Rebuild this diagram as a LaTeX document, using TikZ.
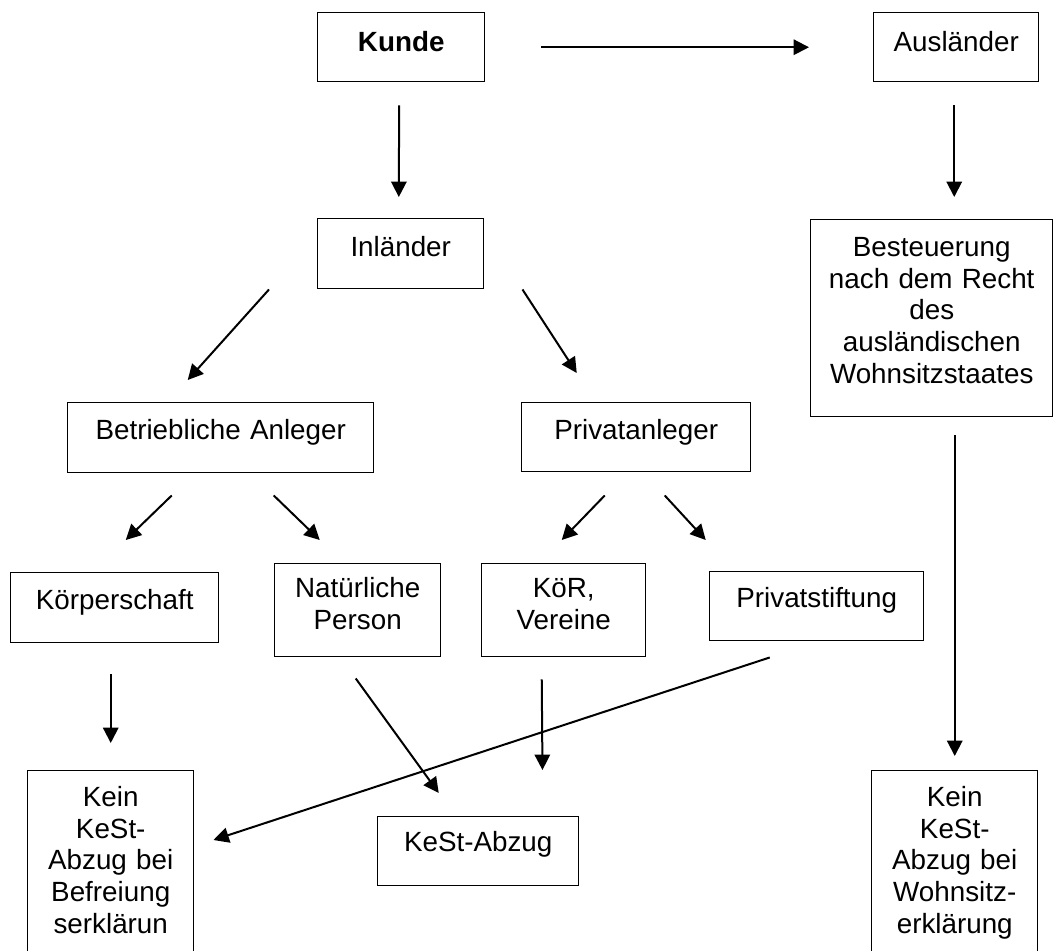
\documentclass[tikz,border=0pt]{standalone}
\usepackage{fontspec}
\setmainfont{Liberation Sans}
\usetikzlibrary{arrows.meta,calc}
\begin{document}
\begin{tikzpicture}[x=0.75pt,y=-0.75pt,
  box/.style={draw, line width=1.1pt, inner sep=0pt, anchor=north west, align=center,
    font=\fontsize{20.85}{23.7}\selectfont},
  arr/.style={-{Triangle[length=11.5pt,width=11.5pt]}, line width=1.5pt}]
\useasboundingbox (0,0) rectangle (1055,950);
\clip (0,0) rectangle (1055,950);

\node[box, text width=125.25pt, text height=29.25pt, text depth=22.5pt] (kunde) at (317,12) {\bfseries Kunde};
\node[box, text width=123.75pt, text height=29.25pt, text depth=22.5pt] (ausl) at (873,12) {Ausländer};
\node[box, text width=124.5pt, text height=28.5pt, text depth=24pt] (inl) at (317,218) {Inländer};
\node[box, text width=181.5pt, text height=27.75pt, text depth=120pt] (bes) at (810,219) {Besteuerung\\nach dem Recht\\des\\ausländischen\\Wohnsitzstaates};
\node[box, text width=229.5pt, text height=27.75pt, text depth=24.75pt] (betr) at (67,402) {Betriebliche Anleger};
\node[box, text width=171.75pt, text height=27.75pt, text depth=24pt] (priv) at (521,402) {Privatanleger};
\node[box, text width=156pt, text height=27.75pt, text depth=24.75pt] (koerp) at (10,572) {Körperschaft};
\node[box, text width=124.5pt, text height=25.5pt, text depth=44.25pt] (nat) at (274,563) {Natürliche\\Person};
\node[box, text width=123pt, text height=25.5pt, text depth=44.25pt] (koer) at (481,563) {KöR,\\Vereine};
\node[box, text width=160.5pt, text height=27pt, text depth=24.75pt] (stift) at (709,571) {Privatstiftung};
\node[box, text width=124.5pt, text height=27pt, text depth=172.5pt] (kb) at (27,770) {Kein\\KeSt-\\Abzug bei\\Befreiung\\serklärun};
\node[box, text width=150.75pt, text height=26.25pt, text depth=25.5pt] (kest) at (377,816) {KeSt-Abzug};
\node[box, text width=124.5pt, text height=27pt, text depth=172.5pt] (kw) at (871,770) {Kein\\KeSt-\\Abzug bei\\Wohnsitz-\\erklärung};

\draw[arr, shorten <=42pt, shorten >=48pt] (kunde.east) -- (ausl.west);
\draw[arr, shorten <=17.25pt, shorten >=15.75pt] ([xshift=-1.5pt]kunde.south) -- ([xshift=-1.5pt]inl.north);
\draw[arr, shorten <=17.25pt, shorten >=16.5pt] ([xshift=-1.5pt]ausl.south) -- ([xshift=-1.5pt]ausl.south |- bes.north);
\draw[arr] ($(inl.south west)+(-48,0)$) -- ($(betr.north)+(-33,-22)$);
\draw[arr] ($(inl.south east)+(38,0)$) -- ($(priv.north)+(-59.5,-29)$);
\draw[arr] ($(betr.south)+(-49,22)$) -- ($(koerp.north)+(11,-32)$);
\draw[arr] ($(betr.south)+(53,22)$) -- ($(nat.north)+(-38,-23)$);
\draw[arr] ($(priv.south)+(-31.5,23)$) -- ($(koer.north)+(-2,-23)$);
\draw[arr] ($(priv.south)+(28.5,23)$) -- ($(stift.north)+(-111,-31)$);
\draw[arr, shorten <=13.5pt, shorten >=10.5pt] (kw.north |- bes.south) -- (kw.north);
\draw[arr, shorten <=23.25pt, shorten >=20.25pt] (kb.north |- koerp.south) -- (kb.north);
\draw[arr] ($(nat.south)+(-2,21)$) -- ($(kest.north)+(-39.5,-23)$);
\draw[arr] ($(koer.south)+(-22,22)$) -- ($(kest.north east)+(-37,-46)$);
\draw[arr] ($(stift.south)+(-47,16)$) -- ($(kb.north east)+(19,70)$);
\end{tikzpicture}
\end{document}
